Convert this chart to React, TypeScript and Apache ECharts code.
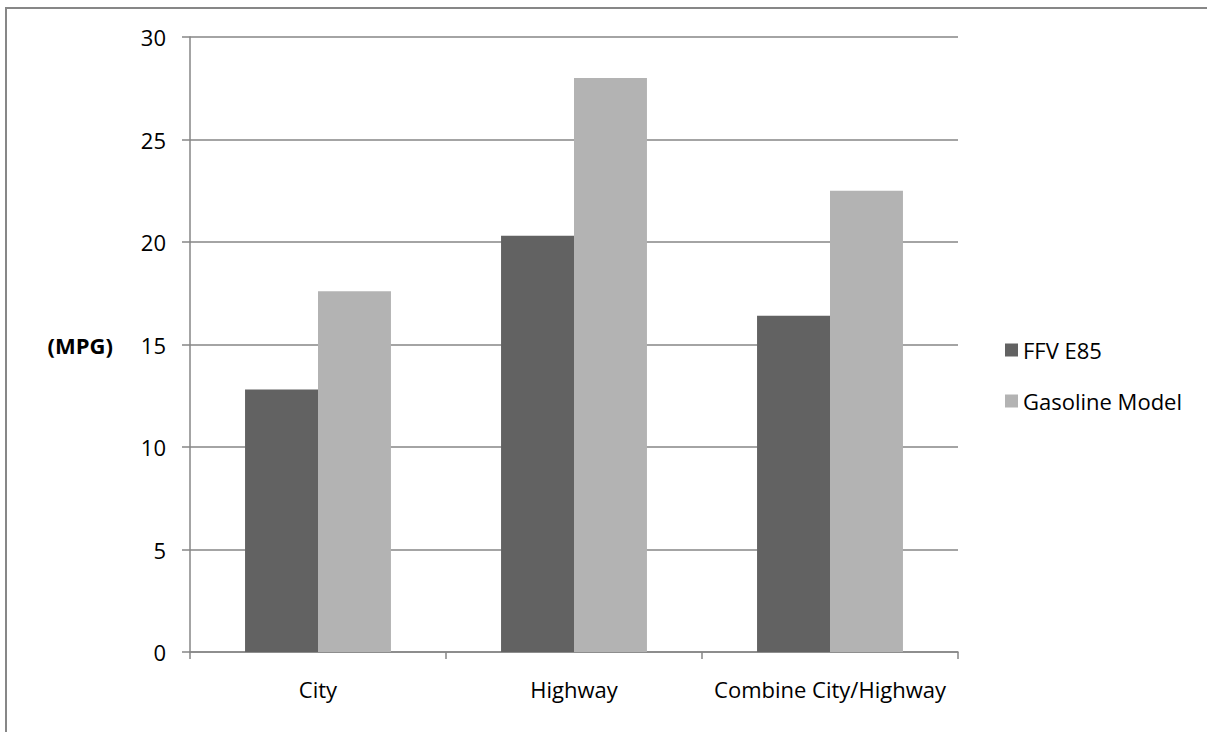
import React, { useEffect, useRef } from "react";
import * as echarts from "echarts";

const categories = ["City", "Highway", "Combine City/Highway"];
const ffvE85 = [12.8, 20.3, 16.4];
const gasolineModel = [17.6, 28, 22.5];
const seriesNames = ["FFV E85", "Gasoline Model"];
const yAxisTitle = "(MPG)";

const FONT = "Open Sans";
const FS = 22;

export default function App() {
  const ref = useRef<HTMLDivElement>(null);
  useEffect(() => {
    document.body.style.margin = "0";
    const chart = echarts.init(ref.current!, null, { renderer: "svg" });
    chart.setOption({
      animation: false,
      textStyle: { fontFamily: FONT },
      grid: { left: 190, right: 249, top: 37, bottom: 80, containLabel: false },
      graphic: [
        {
          type: "rect",
          shape: { x: 6, y: 8, width: 1220, height: 760 },
          style: { fill: "none", stroke: "#878787", lineWidth: 2 },
          silent: true,
        },
        {
          type: "text",
          x: 113,
          y: 345,
          style: {
            text: yAxisTitle,
            fontFamily: FONT,
            fontSize: FS,
            fontWeight: "bold",
            fill: "#000",
            align: "right",
            verticalAlign: "middle",
          },
        },
      ],
      legend: {
        orient: "vertical",
        left: 1000,
        top: 334,
        itemWidth: 13,
        itemHeight: 13,
        itemGap: 29,
        icon: "rect",
        textStyle: { fontFamily: FONT, fontSize: FS, color: "#000" },
        data: seriesNames,
      },
      xAxis: {
        type: "category",
        data: categories,
        axisLine: { lineStyle: { color: "#868686", width: 1.5 } },
        axisTick: { show: true, length: 7, lineStyle: { color: "#868686", width: 1.5 } },
        axisLabel: {
          color: "#000",
          fontSize: FS,
          fontFamily: FONT,
          margin: 26,
          interval: 0,
          hideOverlap: false,
        },
      },
      yAxis: {
        type: "value",
        min: 0,
        max: 30,
        interval: 5,
        axisLine: { show: true, lineStyle: { color: "#868686", width: 1.5 } },
        axisTick: { show: true, length: 8, lineStyle: { color: "#868686", width: 1.5 } },
        axisLabel: { color: "#000", fontSize: FS, fontFamily: FONT, margin: 24 },
        splitLine: { lineStyle: { color: "#868686", width: 1.5 } },
      },
      series: [
        {
          name: seriesNames[0],
          type: "bar",
          data: ffvE85,
          barWidth: "28.5%",
          barGap: "0%",
          itemStyle: { color: "#626262" },
        },
        {
          name: seriesNames[1],
          type: "bar",
          data: gasolineModel,
          barWidth: "28.5%",
          barGap: "0%",
          itemStyle: { color: "#b3b3b3" },
        },
      ],
    });
    return () => chart.dispose();
  }, []);
  return <div ref={ref} style={{ width: 1207, height: 732 }} />;
}
